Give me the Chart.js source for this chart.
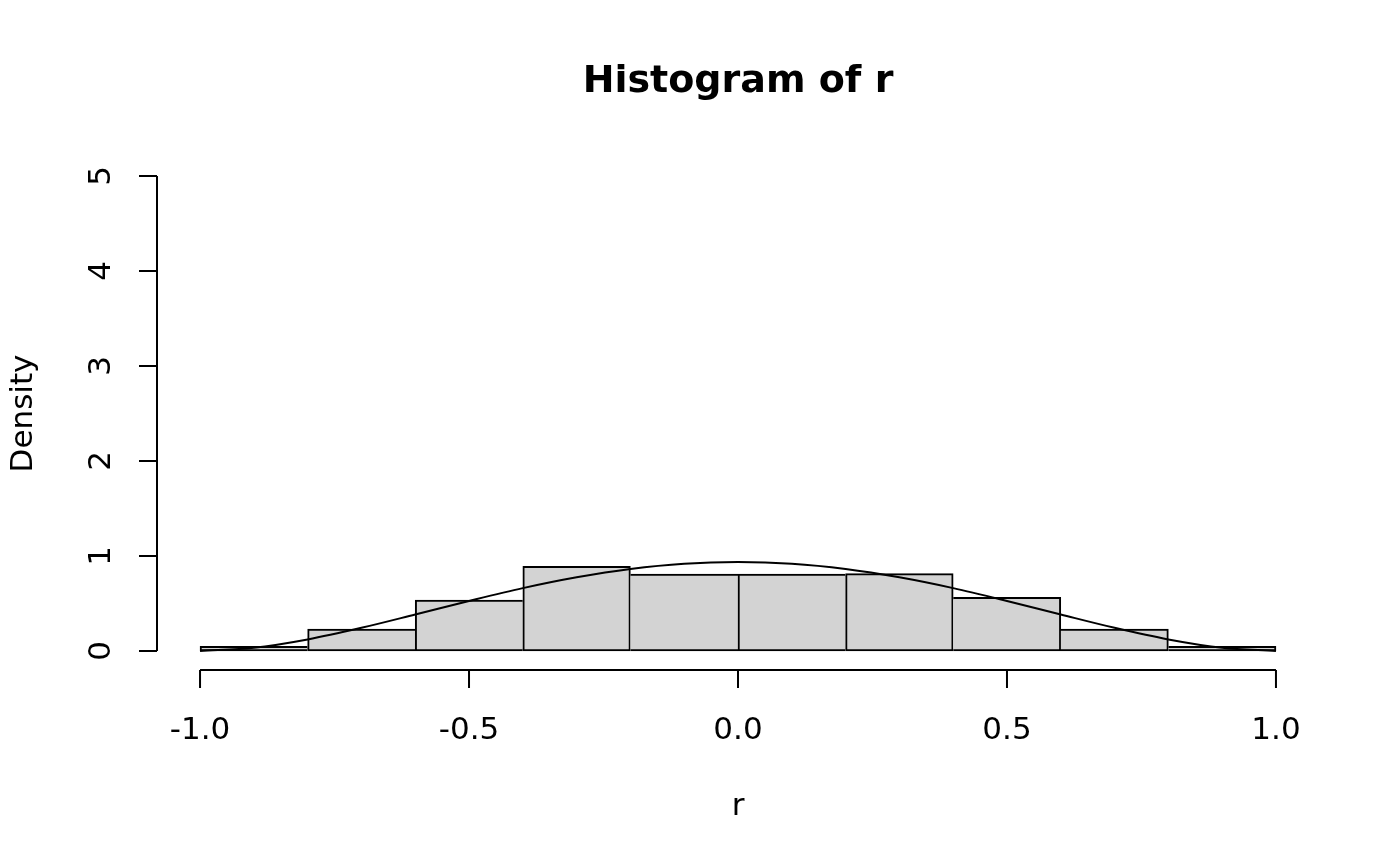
<!DOCTYPE html>
<html>
<head>
<meta charset="utf-8">
<title>Histogram of r</title>
<script src="https://cdn.jsdelivr.net/npm/chart.js@4.4.1/dist/chart.umd.min.js"></script>
<style>
    html, body { margin: 0; padding: 0; background: #ffffff; }
    #wrap { width: 1400px; height: 866px; position: relative; }
</style>
</head>
<body>
<div id="wrap"><canvas id="histChart"></canvas></div>
<script>
// Histogram bins (midpoints) and their densities
const binMids = [-0.9, -0.7, -0.5, -0.3, -0.1, 0.1, 0.3, 0.5, 0.7, 0.9];
const binDensity = [0.05, 0.23, 0.535, 0.89, 0.81, 0.81, 0.815, 0.565, 0.23, 0.05];

// Density curve
const curveR = [-1.0, -0.9, -0.8, -0.7, -0.6, -0.5, -0.4, -0.3, -0.2, -0.1, 0.0,
                0.1, 0.2, 0.3, 0.4, 0.5, 0.6, 0.7, 0.8, 0.9, 1.0];
const curveDensity = [0, 0.034, 0.122, 0.244, 0.384, 0.527, 0.662, 0.776, 0.864, 0.919, 0.937,
                      0.919, 0.864, 0.776, 0.662, 0.527, 0.384, 0.244, 0.122, 0.034, 0];

// Axis ticks
const xTicks = [-1, -0.5, 0, 0.5, 1];
const xTickLabels = ['-1.0', '-0.5', '0.0', '0.5', '1.0'];
const yTicks = [0, 1, 2, 3, 4, 5];
const yTickLabels = ['0', '1', '2', '3', '4', '5'];

const titleText = 'Histogram of r';
const xTitle = 'r';
const yTitle = 'Density';

const FONT = '"DejaVu Sans", "Liberation Sans", sans-serif';
const TICK_LEN = 18;

// Shared bar edges are drawn once, by the taller of the two bars
function barBorder(c) {
    const i = c.dataIndex;
    const h = binDensity;
    const left = (i === 0 || h[i] >= h[i - 1]) ? 2 : 0;
    const right = (i === h.length - 1 || h[i] > h[i + 1]) ? 2 : 0;
    return { top: 2, bottom: 2, left: left, right: right };
}

// R style axes: drawn after the chart, using the chart's own scales
const rAxesPlugin = {
    id: 'rAxes',
    afterDraw(chart) {
        const ctx = chart.ctx;
        const xs = chart.scales.x;
        const ys = chart.scales.y;
        const area = chart.chartArea;
        ctx.save();
        ctx.strokeStyle = '#000000';
        ctx.fillStyle = '#000000';
        ctx.lineWidth = 2;
        ctx.lineCap = 'butt';

        // x axis, sits at the bottom of the plot region
        const axY = area.bottom;
        const x0 = xs.getPixelForValue(xTicks[0]);
        const x1 = xs.getPixelForValue(xTicks[xTicks.length - 1]);
        ctx.beginPath();
        ctx.moveTo(x0, axY);
        ctx.lineTo(x1, axY);
        xTicks.forEach(v => {
            const px = xs.getPixelForValue(v);
            ctx.moveTo(px, axY);
            ctx.lineTo(px, axY + TICK_LEN);
        });
        ctx.stroke();

        ctx.font = '31px ' + FONT;
        ctx.textAlign = 'center';
        ctx.textBaseline = 'alphabetic';
        xTicks.forEach((v, i) => {
            ctx.fillText(xTickLabels[i], xs.getPixelForValue(v), 739);
        });

        // y axis, at the left of the plot region
        const axX = area.left;
        const y0 = ys.getPixelForValue(yTicks[0]);
        const y1 = ys.getPixelForValue(yTicks[yTicks.length - 1]);
        ctx.beginPath();
        ctx.moveTo(axX, y0);
        ctx.lineTo(axX, y1);
        yTicks.forEach(v => {
            const py = ys.getPixelForValue(v);
            ctx.moveTo(axX, py);
            ctx.lineTo(axX - TICK_LEN, py);
        });
        ctx.stroke();

        yTicks.forEach((v, i) => {
            ctx.save();
            ctx.translate(110, ys.getPixelForValue(v));
            ctx.rotate(-Math.PI / 2);
            ctx.fillText(yTickLabels[i], 0, 0);
            ctx.restore();
        });

        // axis titles
        const midX = (area.left + area.right) / 2;
        const midY = (area.top + area.bottom) / 2;
        ctx.fillText(xTitle, midX, 815);
        ctx.save();
        ctx.translate(32, midY);
        ctx.rotate(-Math.PI / 2);
        ctx.fillText(yTitle, 0, 0);
        ctx.restore();

        // main title
        ctx.font = 'bold 38px ' + FONT;
        ctx.fillText(titleText, midX, 92);
        ctx.restore();
    }
};

const ctx = document.getElementById('histChart').getContext('2d');
new Chart(ctx, {
    data: {
        datasets: [
            {
                type: 'line',
                label: 'density',
                data: curveR.map((r, i) => ({ x: r, y: curveDensity[i] })),
                borderColor: '#000000',
                borderWidth: 2,
                pointRadius: 0,
                fill: false,
                cubicInterpolationMode: 'monotone',
                order: 0
            },
            {
                type: 'bar',
                label: 'r',
                data: binMids.map((m, i) => ({ x: m, y: binDensity[i] })),
                backgroundColor: '#d3d3d3',
                borderColor: '#000000',
                borderWidth: barBorder,
                borderSkipped: false,
                barPercentage: 1.0,
                categoryPercentage: 1.0,
                order: 1
            }
        ]
    },
    options: {
        responsive: true,
        maintainAspectRatio: false,
        animation: false,
        devicePixelRatio: 1,
        layout: {
            padding: { left: 157, right: 81, top: 157, bottom: 196 }
        },
        plugins: {
            legend: { display: false },
            tooltip: { enabled: false },
            title: { display: false }
        },
        scales: {
            x: {
                type: 'linear',
                min: -1.08,
                max: 1.08,
                offset: false,
                display: false,
                // keep only the labelled ticks so bar widths follow the bin spacing
                afterBuildTicks: scale => {
                    scale.ticks = xTicks.map(v => ({ value: v }));
                }
            },
            y: {
                type: 'linear',
                min: -0.2,
                max: 5.2,
                display: false
            }
        }
    },
    plugins: [rAxesPlugin]
});
</script>
</body>
</html>
